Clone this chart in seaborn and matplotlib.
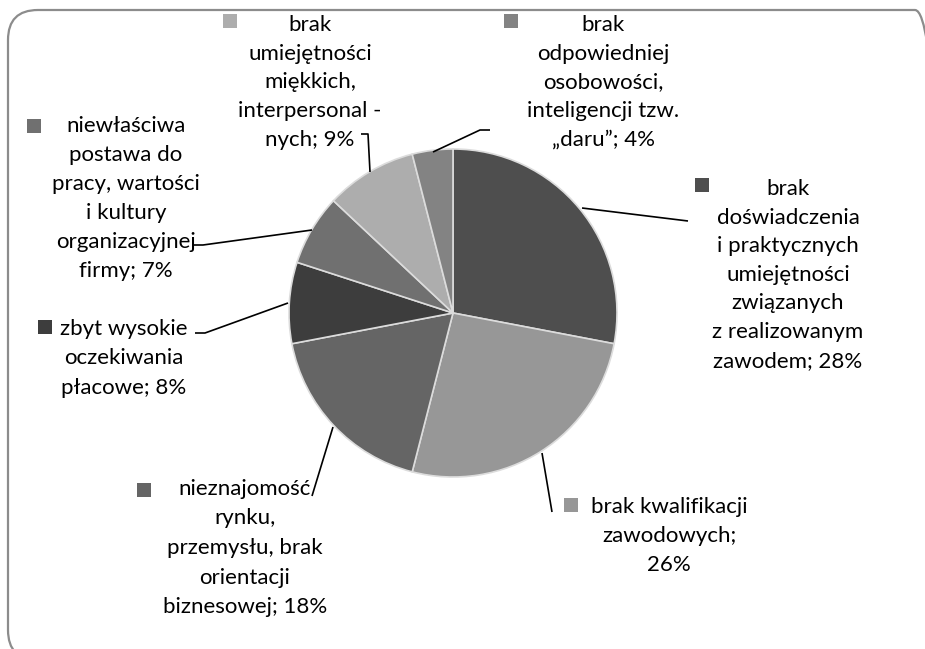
import numpy as np
import matplotlib
matplotlib.use("Agg")
import matplotlib.pyplot as plt
import seaborn as sns
from matplotlib.patches import FancyBboxPatch

# ==============================
# Data
# ==============================
categories = [
    "brak\ndoświadczenia\ni praktycznych\numiejętności\nzwiązanych\nz realizowanym\nzawodem; 28%",
    "brak kwalifikacji\nzawodowych;\n26%",
    "nieznajomość\nrynku,\nprzemysłu, brak\norientacji\nbiznesowej; 18%",
    "zbyt wysokie\noczekiwania\npłacowe; 8%",
    "niewłaściwa\npostawa do\npracy, wartości\ni kultury\norganizacyjnej\nfirmy; 7%",
    "brak\numiejętności\nmiękkich,\ninterpersonal -\nnych; 9%",
    "brak\nodpowiedniej\nosobowości,\ninteligencji tzw.\n„daru”; 4%",
]
shares = [28, 26, 18, 8, 7, 9, 4]
colors = ["#4e4e4e", "#979797", "#656565", "#3d3d3d", "#707070", "#adadad", "#838383"]

# ==============================
# Layout (image pixel coords, y from top)
# ==============================
W, H = 925, 649
center = (453, 313)
radius = 164
# label block: centre x, first baseline y, line step
label_pos = [(788, 195, 28.6), (669, 513, 29.0), (245, 495, 29.5), (124, 335, 29.5),
             (126, 132, 29.0), (310, 31, 28.7), (603, 31, 28.7)]
key_pos = [(702, 185), (571, 505), (144, 490), (45, 327), (34, 126), (230, 21), (511, 21)]
leaders = [
    [(582, 208), (688, 221)],
    [(542, 453), (552, 512)],
    [(333, 427), (312, 496)],
    [(288, 303), (205, 333), (195, 333)],
    [(312, 230), (203, 245), (194, 245)],
    [(370, 172), (368, 134), (361, 134)],
    [(433, 152), (480, 130), (490, 130)],
]

def fy(y):
    return H - y

# ==============================
# Plot
# ==============================
sns.set_theme(style="white")
plt.rcParams["font.family"] = ["Lato", "DejaVu Sans"]

fig = plt.figure(figsize=(W / 100, H / 100), dpi=100)
ax = fig.add_axes([0, 0, 1, 1])

ax.pie(shares, colors=colors, startangle=90, counterclock=False,
       center=(center[0], fy(center[1])), radius=radius,
       wedgeprops=dict(edgecolor="#dcdcdc", linewidth=1.2))

# leader lines
for pts in leaders:
    xs = [p[0] for p in pts]
    ys = [fy(p[1]) for p in pts]
    ax.plot(xs, ys, color="black", lw=1.2, solid_capstyle="butt")

# labels with legend keys
for text, (cx, y0, step), (kx, ky), col in zip(categories, label_pos, key_pos, colors):
    for i, line in enumerate(text.split("\n")):
        ax.text(cx, fy(y0 + i * step), line, ha="center", va="baseline",
                fontsize=16, color="black")
    ax.scatter([kx], [fy(ky)], marker="s", s=110, color=col, linewidths=0)

# rounded frame
frame = FancyBboxPatch((8, fy(660)), 937, 650, boxstyle="round,pad=0,rounding_size=30",
                       fill=False, edgecolor="#8c8c8c", lw=1.6, clip_on=False)
ax.add_patch(frame)

ax.set_xlim(0, W)
ax.set_ylim(0, H)
ax.set_aspect("equal")
ax.axis("off")

fig.savefig("out.png", dpi=100)
